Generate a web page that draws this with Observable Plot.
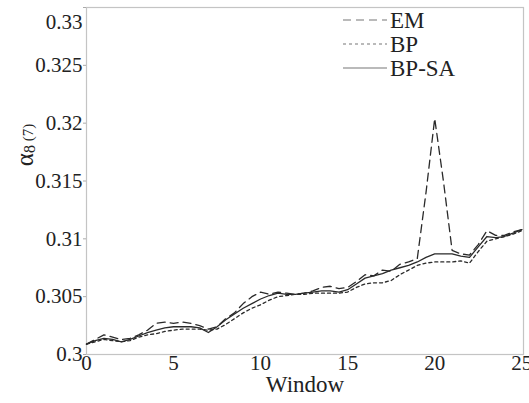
<!DOCTYPE html>
<html>
<head>
<meta charset="utf-8">
<script src="https://cdn.jsdelivr.net/npm/d3@7"></script>
<script src="https://cdn.jsdelivr.net/npm/@observablehq/plot@0.6"></script>
<style>
  html, body { margin: 0; padding: 0; background: #fff; }
  #chart { width: 529px; height: 403px; }
  #chart svg, #chart svg text, #chart svg g { font-family: "Liberation Serif", "DejaVu Serif", serif !important; font-variant: normal !important; }
</style>
</head>
<body>
<div id="chart"></div>
<script>
const windows = [0,0.5,1,1.5,2,2.5,3,3.5,4,4.5,5,5.5,6,6.5,7,7.5,8,8.5,9,9.5,10,10.5,11,11.5,12,12.5,13,13.5,14,14.5,15,15.5,16,16.5,17,17.5,18,18.5,19,19.5,20,20.5,21,21.5,22,22.5,23,23.5,24,24.5,25];

const emValues = [0.3009,0.3013,0.3017,0.3015,0.3013,0.3014,0.3017,0.3021,0.3027,0.3028,0.3027,0.3028,0.3027,0.3025,0.3022,0.3024,0.3031,0.3036,0.3044,0.3050,0.3054,0.3052,0.3054,0.3053,0.3052,0.3053,0.3055,0.3058,0.3059,0.3057,0.3058,0.3063,0.3069,0.3068,0.3073,0.3072,0.3078,0.3080,0.3083,0.3140,0.3204,0.3150,0.3090,0.3087,0.3086,0.3095,0.3107,0.3103,0.3103,0.3106,0.3108];

const bpValues = [0.3009,0.3011,0.3013,0.3012,0.3011,0.3012,0.3015,0.3017,0.3018,0.3020,0.3021,0.3022,0.3022,0.3022,0.3021,0.3022,0.3026,0.3031,0.3036,0.3040,0.3043,0.3047,0.3050,0.3051,0.3052,0.3052,0.3053,0.3053,0.3053,0.3053,0.3054,0.3058,0.3061,0.3062,0.3062,0.3064,0.3069,0.3073,0.3077,0.3079,0.3080,0.3080,0.3080,0.3081,0.3079,0.3089,0.3098,0.3100,0.3102,0.3104,0.3107];

const bpsaValues = [0.3009,0.3012,0.3014,0.3013,0.3011,0.3013,0.3016,0.3019,0.3021,0.3023,0.3024,0.3024,0.3024,0.3023,0.3019,0.3024,0.3030,0.3035,0.3040,0.3044,0.3048,0.3051,0.3053,0.3052,0.3052,0.3053,0.3054,0.3055,0.3055,0.3054,0.3056,0.3061,0.3066,0.3068,0.3070,0.3073,0.3075,0.3077,0.3080,0.3084,0.3087,0.3087,0.3087,0.3085,0.3084,0.3093,0.3102,0.3101,0.3102,0.3105,0.3108];

const seriesNames = ["EM", "BP", "BP-SA"];
const xTicks = [0, 5, 10, 15, 20, 25];
const yTicks = [0.3, 0.305, 0.31, 0.315, 0.32, 0.325, 0.33];
const xLabel = "Window";

const seriesStyle = {
  "EM": {dash: "8,5"},
  "BP": {dash: "3,3"},
  "BP-SA": {dash: null}
};
const seriesData = [emValues, bpValues, bpsaValues];

const rows = [];
seriesNames.forEach((name, si) => {
  windows.forEach((w, i) => rows.push({series: name, w, v: seriesData[si][i]}));
});

const font = "Liberation Serif, DejaVu Serif, serif";
const ink = "#222";

const marks = [
  Plot.frame({stroke: "#c4c4c4", strokeWidth: 1.2}),
  Plot.axisY({ticks: yTicks, tickSize: 3, tickPadding: 1, stroke: "#aaa",
    tickFormat: d => String(+d.toFixed(3)), fontSize: 21, fill: ink, label: null, className: "yax"}),
  Plot.axisX({ticks: xTicks, tickSize: 0, tickPadding: 1, fontSize: 21, fill: ink,
    label: null, textAnchor: "middle"}),
];
seriesNames.forEach((name) => {
  marks.push(Plot.line(rows.filter(r => r.series === name), {
    x: "w", y: "v", stroke: "#2a2a2a", strokeWidth: 1.3,
    strokeDasharray: seriesStyle[name].dash || undefined,
    curve: "linear"
  }));
});
marks.push(Plot.text([xLabel], {frameAnchor: "bottom", dy: 37, fontSize: 23, fill: ink, text: d => d}));
marks.push(Plot.text(["α"], {frameAnchor: "left", dx: -61, dy: -36, rotate: -90, fontSize: 22, fill: ink, text: d => d, className: "ylab"}));

const chart = Plot.plot({
  width: 529,
  height: 403,
  marginLeft: 86,
  marginRight: 6,
  marginTop: 7,
  marginBottom: 49,
  style: {fontFamily: font, background: "#fff", color: ink, overflow: "visible"},
  x: {domain: [0, 25.1]},
  y: {domain: [0.3, 0.33]},
  marks
});

const svg = d3.select(chart);
svg.selectAll("g").attr("font-variant", null);
svg.selectAll("text").attr("font-family", font).attr("font-variant", null).style("font-family", font);

// Top y tick label sits just under the frame top, as in the reference
svg.selectAll("g.yax text").filter(function() { return this.textContent === "0.33"; })
  .attr("dy", "0.7em");

// Rich y-axis label: α with smaller "8 (7)"
const yl = svg.select("g.ylab text");
if (!yl.empty()) {
  yl.text(null).attr("text-anchor", "middle");
  yl.append("tspan").attr("font-size", 25).text("α");
  yl.append("tspan").attr("font-size", 16).attr("dy", 2).text("8");
  yl.append("tspan").attr("font-size", 15).attr("dy", -2).text(" (7)");
}

// Legend
const legend = svg.append("g").attr("font-family", font).attr("font-size", 23)
  .attr("fill", ink).attr("text-anchor", "start");
seriesNames.forEach((name, i) => {
  const y = 20 + i * 24;
  legend.append("line").attr("x1", 343).attr("x2", 387).attr("y1", y).attr("y2", y)
    .attr("stroke", "#777").attr("stroke-width", 1.1)
    .attr("stroke-dasharray", seriesStyle[name].dash);
  legend.append("text").attr("x", 390).attr("y", y).attr("dy", "0.35em").text(name);
});

document.getElementById("chart").appendChild(chart);
</script>
</body>
</html>
